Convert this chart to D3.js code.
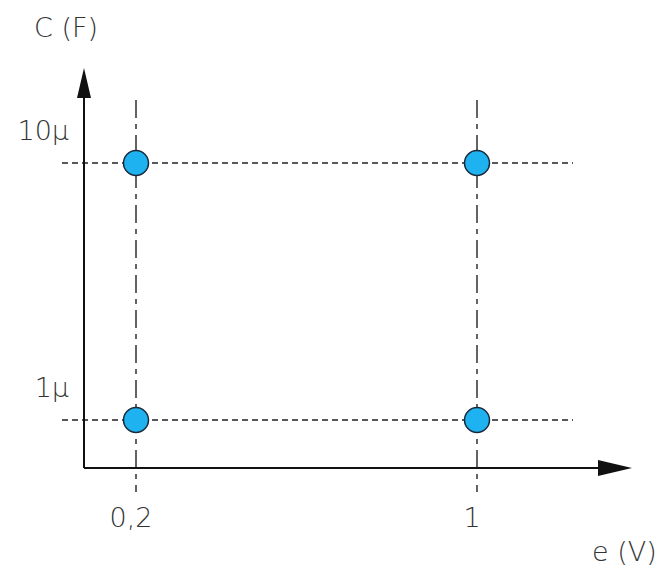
<!DOCTYPE html>
<html>
<head>
<meta charset="utf-8">
<script src="https://cdn.jsdelivr.net/npm/d3@7"></script>
<style>
  body { margin: 0; background: #fff; }
  text { font-family: "DejaVu Sans", sans-serif; font-weight: 200; fill: #333; }
</style>
</head>
<body>
<div id="chart"></div>
<script>
// dados
const tensoes = [0.2, 1];            // e (V)
const capacitancias = [1e-6, 1e-5];  // C (F)
const rotulosX = ["0,2", "1"];
const rotulosY = ["1µ", "10µ"];
const pontos = tensoes.flatMap(e => capacitancias.map(c => ({ e, c })));

const width = 661, height = 567;
const origem = { x: 84, y: 468 };

const svg = d3.select("#chart").append("svg")
  .attr("width", width)
  .attr("height", height);

// escalas (logaritmicas)
const x = d3.scaleLog().domain([0.2, 1]).range([136, 477]);
const y = d3.scaleLog().domain([1e-6, 1e-5]).range([420, 163]);

// linhas guia verticais (traco-ponto)
svg.append("g").selectAll("line")
  .data(tensoes)
  .join("line")
  .attr("x1", d => x(d)).attr("x2", d => x(d))
  .attr("y1", 100).attr("y2", 492)
  .attr("stroke", "#222")
  .attr("stroke-width", 1.4)
  .attr("stroke-dasharray", "18,6,5,6");

// linhas guia horizontais (tracejadas)
svg.append("g").selectAll("line")
  .data(capacitancias)
  .join("line")
  .attr("x1", 62).attr("x2", 573)
  .attr("y1", d => y(d)).attr("y2", d => y(d))
  .attr("stroke", "#222")
  .attr("stroke-width", 1.4)
  .attr("stroke-dasharray", "6,4");

// eixos
svg.append("line")
  .attr("x1", origem.x).attr("x2", origem.x)
  .attr("y1", origem.y).attr("y2", 90)
  .attr("stroke", "#111").attr("stroke-width", 2);
svg.append("line")
  .attr("x1", origem.x).attr("x2", 605)
  .attr("y1", origem.y).attr("y2", origem.y)
  .attr("stroke", "#111").attr("stroke-width", 2);

// setas
svg.append("path")
  .attr("d", `M${origem.x},68 L${origem.x - 7},98 L${origem.x + 7},98 Z`)
  .attr("fill", "#111");
svg.append("path")
  .attr("d", `M632,${origem.y} L598,${origem.y - 8} L598,${origem.y + 8} Z`)
  .attr("fill", "#111");

// pontos
svg.append("g").selectAll("circle")
  .data(pontos)
  .join("circle")
  .attr("cx", d => x(d.e))
  .attr("cy", d => y(d.c))
  .attr("r", 12.5)
  .attr("fill", "#1fb2f0")
  .attr("stroke", "#1a2a3a")
  .attr("stroke-width", 1.5);

// rotulos dos ticks
svg.append("g").selectAll("text")
  .data(tensoes)
  .join("text")
  .attr("x", d => x(d) - 5)
  .attr("y", 527)
  .attr("text-anchor", "middle")
  .attr("font-size", 27)
  .text((d, i) => rotulosX[i]);

svg.append("g").selectAll("text")
  .data(capacitancias)
  .join("text")
  .attr("x", 69)
  .attr("y", d => y(d) - 23)
  .attr("text-anchor", "end")
  .attr("font-size", 27)
  .text((d, i) => rotulosY[i]);

// titulos dos eixos
svg.append("text")
  .attr("x", 34).attr("y", 37)
  .attr("font-size", 27)
  .text("C (F)");
svg.append("text")
  .attr("x", 592).attr("y", 561)
  .attr("font-size", 27)
  .text("e (V)");
</script>
</body>
</html>
